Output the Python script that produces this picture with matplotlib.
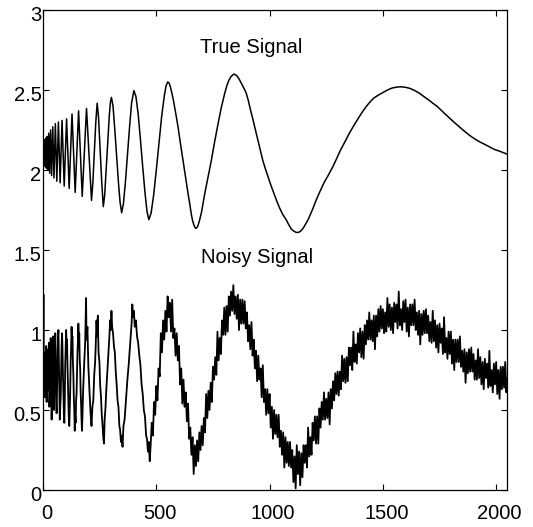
import numpy as np
import matplotlib
matplotlib.use("Agg")
import matplotlib.pyplot as plt
from matplotlib.transforms import ScaledTranslation

plt.rcParams['font.family'] = ['Liberation Sans', 'DejaVu Sans']

# true signal (dense wiggles near 0, then the slow lobes)
true_x = [0, 0.4, 2.8, 5.2, 7.6, 10.1, 12.7, 15.5, 18.5, 21.8,
          25.4, 29.3, 33.5, 38, 43, 48.5, 54.5, 61, 68, 75.5,
          84, 93.5, 104, 115.5, 128, 142, 157, 173, 192, 214,
          220, 226, 233, 239, 245, 252, 259, 266, 272, 279,
          286, 293, 298, 302, 309, 317, 325, 333, 340, 347,
          355, 364, 373, 382, 391, 401, 410, 420, 430, 440,
          450, 459, 467, 477, 488, 500, 512, 524, 536, 543,
          550, 556, 562, 568, 575, 582, 590, 597, 604, 613,
          622, 631, 640, 648, 655, 660, 665, 670, 674, 682,
          690, 700, 714, 728, 743, 756, 770, 786, 802, 812,
          820, 830, 843, 855, 865, 880, 889, 897, 906, 915,
          925, 934, 943, 952, 961, 970, 982, 995, 1007, 1019,
          1032, 1045, 1059, 1073, 1084, 1095, 1105, 1117, 1128, 1140,
          1150, 1170, 1190, 1205, 1222, 1240, 1260, 1279, 1297, 1315,
          1334, 1352, 1371, 1390, 1408, 1426, 1443, 1460, 1480, 1499,
          1520, 1540, 1560, 1580, 1600, 1620, 1640, 1661, 1680, 1700,
          1720, 1741, 1765, 1790, 1813, 1837, 1856, 1875, 1892, 1910,
          1930, 1950, 1970, 1990, 2020, 2047]
true_y = [2.11, 2.06, 2.18, 2.03, 2.19, 2.02, 2.20, 2.01, 2.21, 2.00,
          2.23, 1.98, 2.25, 1.965, 2.27, 1.95, 2.29, 1.93, 2.30, 1.92,
          2.31, 1.90, 2.32, 1.885, 2.35, 1.86, 2.37, 1.835, 2.385, 1.81,
          1.92, 2.10, 2.30, 2.417, 2.33, 2.13, 1.93, 1.771, 1.84, 2.01,
          2.19, 2.35, 2.43, 2.454, 2.40, 2.25, 2.08, 1.92, 1.80, 1.733,
          1.79, 1.93, 2.10, 2.27, 2.42, 2.496, 2.46, 2.35, 2.19, 2.02,
          1.86, 1.74, 1.69, 1.73, 1.84, 2.00, 2.17, 2.34, 2.47, 2.525,
          2.55, 2.545, 2.52, 2.485, 2.44, 2.385, 2.32, 2.26, 2.19, 2.105,
          2.02, 1.935, 1.854, 1.785, 1.72, 1.685, 1.66, 1.643, 1.635, 1.645,
          1.68, 1.74, 1.854, 1.955, 2.06, 2.165, 2.27, 2.385, 2.48, 2.53,
          2.56, 2.585, 2.60, 2.59, 2.57, 2.53, 2.505, 2.48, 2.435, 2.38,
          2.325, 2.27, 2.218, 2.165, 2.112, 2.06, 2.005, 1.95, 1.90, 1.854,
          1.805, 1.76, 1.72, 1.69, 1.66, 1.633, 1.62, 1.61, 1.61, 1.622,
          1.64, 1.69, 1.755, 1.81, 1.865, 1.92, 1.97, 2.02, 2.075, 2.13,
          2.18, 2.23, 2.276, 2.32, 2.36, 2.396, 2.425, 2.45, 2.468, 2.483,
          2.50, 2.512, 2.518, 2.52, 2.517, 2.51, 2.497, 2.48, 2.46, 2.44,
          2.418, 2.396, 2.363, 2.33, 2.30, 2.27, 2.247, 2.225, 2.207, 2.19,
          2.174, 2.16, 2.145, 2.13, 2.115, 2.10]

# noisy signal, samples 0-174 (every 2)
noisy_x_mush = np.arange(0, 175, 2)
noisy_y_mush = [0.80, 1.22, 0.60, 0.82, 0.58, 0.86, 0.64, 0.90, 0.55, 0.84,
                0.62, 0.88, 0.70, 0.92, 0.52, 0.60, 0.86, 0.95, 0.66, 0.44,
                0.58, 0.82, 0.96, 0.74, 0.50, 0.62, 0.80, 0.98, 0.86, 0.56,
                0.48, 0.62, 0.78, 0.94, 1.00, 0.82, 0.62, 0.44, 0.52, 0.58,
                0.74, 0.90, 0.98, 0.88, 0.72, 0.60, 0.48, 0.42, 0.56, 0.78,
                0.88, 1.00, 0.92, 0.94, 0.78, 0.66, 0.54, 0.44, 0.40, 0.50,
                0.62, 0.80, 0.88, 1.02, 0.94, 0.96, 0.80, 0.72, 0.58, 0.50,
                0.37, 0.46, 0.42, 0.56, 0.60, 0.74, 0.86, 0.92, 1.04, 0.94,
                0.98, 0.82, 0.76, 0.62, 0.54, 0.44, 0.37, 0.46]

# noisy signal, 177-475
noisy_x_mid = [177, 182, 186, 190, 192, 196, 200, 205, 210, 214,
               218, 222, 226, 230, 233, 236, 239, 242, 245, 249,
               252, 256, 259, 263, 266, 269, 272, 276, 279, 283,
               286, 290, 293, 296, 299, 302, 305, 309, 313, 317,
               321, 325, 329, 333, 337, 340, 344, 347, 351, 355,
               360, 364, 369, 373, 378, 382, 386, 391, 394, 398,
               401, 405, 410, 415, 420, 425, 430, 435, 440, 445,
               450, 455, 459, 463, 467, 471, 475]
noisy_y_mid = [0.62, 0.80, 0.92, 1.20, 0.94, 1.02, 0.78, 0.62, 0.48, 0.40,
               0.52, 0.56, 0.72, 0.80, 0.92, 1.06, 0.96, 1.09, 0.86, 0.80,
               0.66, 0.58, 0.48, 0.40, 0.33, 0.29, 0.44, 0.52, 0.62, 0.72,
               0.80, 0.90, 0.96, 1.06, 1.00, 1.12, 1.02, 0.98, 0.90, 0.86,
               0.74, 0.66, 0.56, 0.52, 0.40, 0.38, 0.30, 0.34, 0.27, 0.40,
               0.44, 0.52, 0.62, 0.70, 0.78, 0.86, 0.94, 1.04, 1.16, 1.08,
               1.12, 1.02, 1.06, 0.96, 0.92, 0.84, 0.78, 0.66, 0.60, 0.50,
               0.46, 0.34, 0.32, 0.24, 0.30, 0.18, 0.28]

# noisy signal, 480-2047 (every 5)
noisy_x_slow = np.append(np.arange(480, 2046, 5), 2047)
noisy_y_slow = [0.42, 0.34, 0.55, 0.47, 0.65, 0.56, 0.76, 0.71, 0.98, 0.86,
                1.06, 0.94, 1.12, 0.99, 1.21, 1.08, 1.17, 0.99, 1.19, 0.95,
                1.01, 0.84, 0.98, 0.81, 0.90, 0.66, 0.76, 0.54, 0.69, 0.52,
                0.61, 0.43, 0.54, 0.32, 0.39, 0.22, 0.33, 0.10, 0.28, 0.15,
                0.31, 0.18, 0.36, 0.25, 0.40, 0.28, 0.45, 0.36, 0.60, 0.45,
                0.62, 0.50, 0.67, 0.55, 0.77, 0.69, 0.83, 0.72, 0.99, 0.81,
                0.95, 0.85, 1.06, 0.97, 1.14, 0.97, 1.15, 0.99, 1.21, 1.09,
                1.24, 1.12, 1.28, 1.10, 1.21, 1.07, 1.22, 1.00, 1.19, 1.04,
                1.19, 1.04, 1.18, 1.01, 1.11, 0.93, 1.03, 0.88, 1.05, 0.84,
                0.94, 0.76, 0.87, 0.68, 0.84, 0.69, 0.76, 0.58, 0.78, 0.55,
                0.63, 0.47, 0.63, 0.48, 0.60, 0.39, 0.52, 0.32, 0.50, 0.35,
                0.47, 0.33, 0.47, 0.27, 0.37, 0.22, 0.36, 0.14, 0.33, 0.17,
                0.30, 0.15, 0.30, 0.14, 0.25, 0.05, 0.21, 0.01, 0.28, 0.10,
                0.24, 0.03, 0.23, 0.08, 0.28, 0.17, 0.28, 0.14, 0.39, 0.21,
                0.33, 0.22, 0.42, 0.31, 0.46, 0.29, 0.46, 0.29, 0.51, 0.39,
                0.55, 0.44, 0.61, 0.44, 0.57, 0.45, 0.61, 0.41, 0.63, 0.51,
                0.68, 0.56, 0.73, 0.60, 0.74, 0.59, 0.74, 0.63, 0.84, 0.68,
                0.82, 0.67, 0.83, 0.68, 0.89, 0.78, 0.89, 0.75, 0.99, 0.80,
                0.91, 0.79, 0.98, 0.86, 1.01, 0.83, 0.99, 0.82, 1.03, 0.91,
                1.06, 0.94, 1.11, 0.94, 1.06, 0.93, 1.09, 0.88, 1.09, 0.96,
                1.13, 0.99, 1.15, 1.01, 1.13, 0.98, 1.11, 0.99, 1.20, 1.02,
                1.16, 1.00, 1.14, 0.98, 1.17, 1.05, 1.16, 1.01, 1.24, 1.03,
                1.13, 1.00, 1.18, 1.05, 1.19, 0.99, 1.14, 0.96, 1.16, 1.03,
                1.16, 1.03, 1.19, 1.00, 1.11, 0.97, 1.12, 0.91, 1.10, 0.97,
                1.12, 0.98, 1.13, 0.98, 1.09, 0.93, 1.05, 0.92, 1.12, 0.93,
                1.06, 0.89, 1.03, 0.86, 1.04, 0.92, 1.01, 0.85, 1.08, 0.86,
                0.95, 0.82, 0.99, 0.85, 0.99, 0.79, 0.94, 0.75, 0.94, 0.80,
                0.94, 0.80, 0.96, 0.77, 0.87, 0.74, 0.88, 0.67, 0.86, 0.73,
                0.88, 0.74, 0.89, 0.74, 0.85, 0.69, 0.81, 0.69, 0.88, 0.70,
                0.83, 0.66, 0.80, 0.63, 0.82, 0.70, 0.79, 0.64, 0.87, 0.65,
                0.75, 0.61, 0.79, 0.66, 0.80, 0.60, 0.75, 0.57, 0.77, 0.63,
                0.77, 0.64, 0.80, 0.61, 0.70]

noisy_x = np.concatenate([noisy_x_mush, noisy_x_mid, noisy_x_slow])
noisy_y = np.concatenate([noisy_y_mush, noisy_y_mid, noisy_y_slow])

x_ticks = [0, 500, 1000, 1500, 2000]
y_ticks = [0, 0.5, 1, 1.5, 2, 2.5, 3]
y_tick_labels = ['0', '0.5', '1', '1.5', '2', '2.5', '3']

fig = plt.figure(figsize=(5.33, 5.27), dpi=100)
ax = fig.add_axes([0.0807, 0.0702, 0.8706, 0.9108])

ax.plot(true_x, true_y, color='black', lw=1.1)
ax.plot(noisy_x, noisy_y, color='black', lw=1.3)

ax.text(918, 2.73, 'True Signal', ha='center', va='baseline', fontsize=14.5)
ax.text(943, 1.42, 'Noisy Signal', ha='center', va='baseline', fontsize=14.5)

ax.set_xlim(0, 2048)
ax.set_ylim(0, 3)
ax.set_xticks(x_ticks)
ax.set_yticks(y_ticks)
ax.set_yticklabels(y_tick_labels)
ax.tick_params(direction='in', top=True, right=True, length=4, width=0.8,
               labelsize=14.5)
ax.tick_params(axis='x', pad=10)
ax.tick_params(axis='y', pad=1)
for sp in ax.spines.values():
    sp.set_linewidth(0.9)

# labels in the original sit a few pixels off their ticks
for lab in ax.get_xticklabels():
    lab.set_transform(lab.get_transform() + ScaledTranslation(0.035, 0, fig.dpi_scale_trans))
for lab in ax.get_yticklabels():
    lab.set_transform(lab.get_transform() + ScaledTranslation(0, -0.035, fig.dpi_scale_trans))

fig.savefig('out.png', dpi=100)
